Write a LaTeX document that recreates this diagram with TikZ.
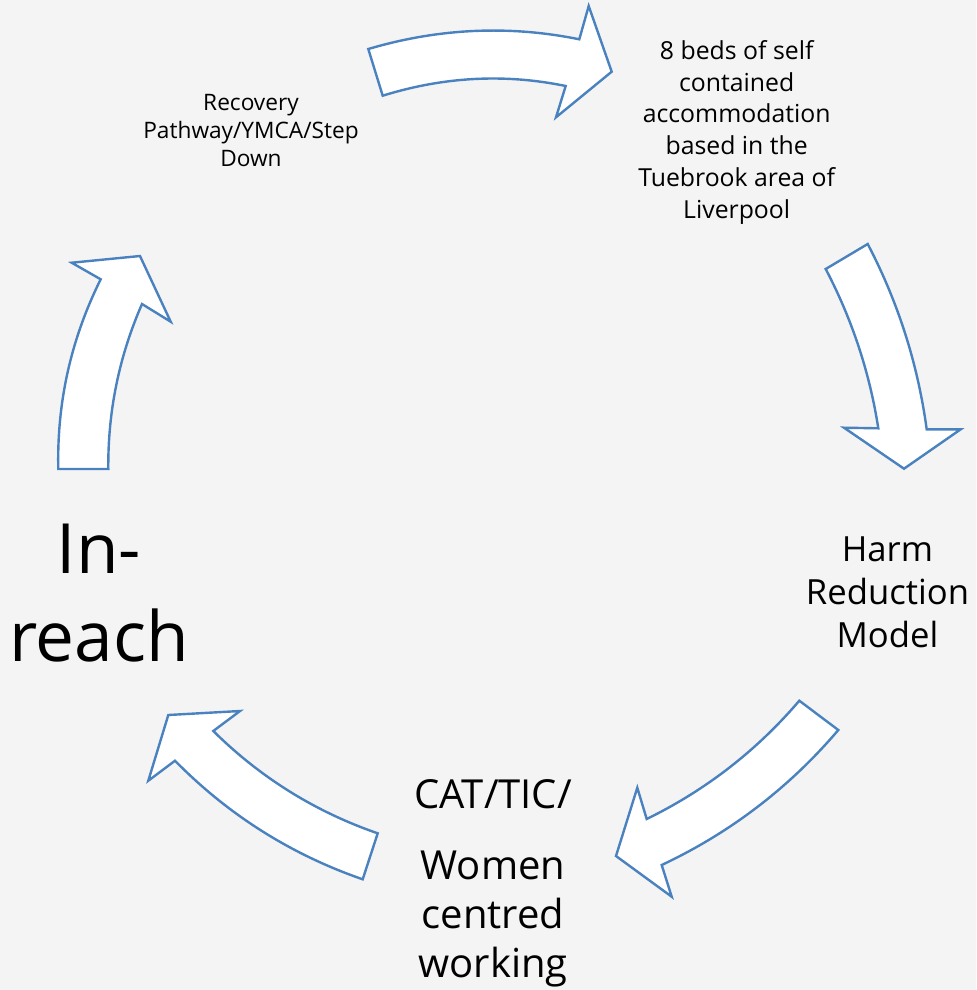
\documentclass[tikz,border=0pt]{standalone}
\usepackage{fontspec}
\setmainfont{Open Sans}
\usepackage{xcolor}
\definecolor{arrowblue}{RGB}{74,130,192}
\definecolor{pagegrey}{RGB}{244,244,244}

\begin{document}
\begin{tikzpicture}[x=0.75pt,y=0.75pt,yscale=-1,xscale=1,
  blockarrow/.style={draw=arrowblue,fill=white,line width=1.8pt,line join=miter},
  cycletext/.style={anchor=center,inner sep=0pt,align=center,text=black}]
%set diagram left start at 0, and has height of 990
\fill[pagegrey] (0,0) rectangle (976,990);
\useasboundingbox (0,0) rectangle (976,990);

%Shape: Curved Arrow [top]
\draw[blockarrow] (565.7,86) .. controls (504.7,73.4) and (443.7,76.7) .. (382.7,95.7) -- (368.3,49) .. controls (438.6,28.2) and (509,25) .. (579.3,39.3) -- (588.7,6) -- (611.7,71.7) -- (556,117.3) -- cycle ;
%Shape: Curved Arrow [right]
\draw[blockarrow] (878.3,428.3) .. controls (869.6,372.3) and (852,319.2) .. (825.7,269) -- (867.7,244) .. controls (898.2,302.3) and (917.8,364.1) .. (926.7,429.3) -- (960.7,429.3) -- (904,468.7) -- (844,427.7) -- cycle ;
%Shape: Curved Arrow [lower right]
\draw[blockarrow] (646.7,819) .. controls (705.8,790.1) and (756.6,750.7) .. (799.3,700.7) -- (838.3,730) .. controls (789.2,787.7) and (730.3,832.7) .. (661.7,865) -- (671.7,896.7) -- (616,856) -- (637.3,787.7) -- cycle ;
%Shape: Curved Arrow [lower left]
\draw[blockarrow] (213.3,731) .. controls (260.4,777.6) and (315.2,811.7) .. (377.7,833.3) -- (362.7,879.3) .. controls (290.9,854.4) and (228.3,814.9) .. (175,760.7) -- (148.3,780.7) -- (168.3,715) -- (240,711) -- cycle ;
%Shape: Curved Arrow [left]
\draw[blockarrow] (100.7,279.3) .. controls (71,339) and (56.8,402.3) .. (58.3,469) -- (108.3,469) .. controls (107.8,411.6) and (119,356.6) .. (142,304) -- (170.7,321.7) -- (140,256) -- (71.7,262.7) -- cycle ;

% Text Node
\node[cycletext,font=\fontsize{17}{21.2}\selectfont] (recovery) at (251,130.5) {Recovery\\Pathway/YMCA/Step\\Down};
% Text Node
\node[cycletext,font=\fontsize{18.6}{23.9}\selectfont] (beds) at (736.7,132.4) {8 beds of self\\contained\\accommodation\\based in the\\Tuebrook area of\\Liverpool};
% Text Node
\node[cycletext,font=\fontsize{26}{32.4}\selectfont] (harm) at (887.5,592.5) {Harm\\Reduction\\Model};
% Text Node
\node[cycletext,font=\fontsize{30}{36.75}\selectfont] (cattic) at (493,883.2) {CAT/TIC/\\[17pt]Women\\centred\\working};
% Text Node
\node[cycletext,font=\fontsize{52}{66}\selectfont] (inreach) at (99,593) {In-\\reach};

\end{tikzpicture}
\end{document}
